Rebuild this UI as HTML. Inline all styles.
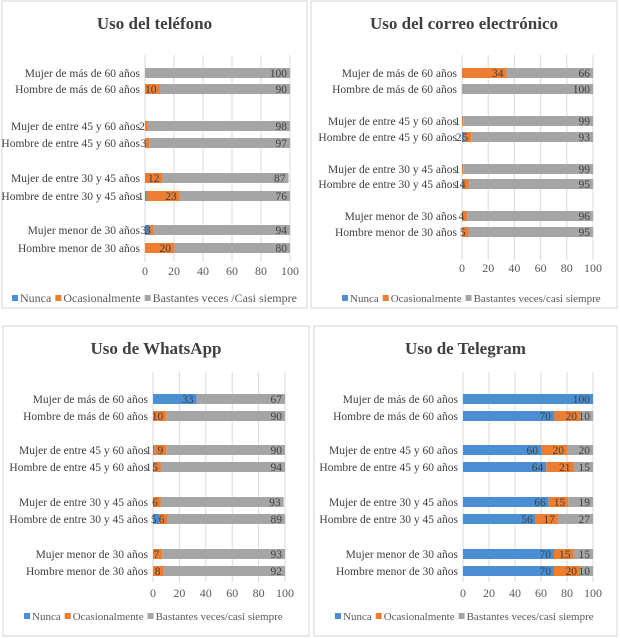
<!DOCTYPE html>
<html><head><meta charset="utf-8"><style>
body{margin:0;background:#fff;width:620px;height:638px;overflow:hidden;font-family:"Liberation Serif",serif}
svg{position:absolute;left:0;top:0}
</style></head><body>
<svg id="s" width="620" height="638"></svg>
<script>
const categories=["Mujer de más de 60 años","Hombre de más de 60 años","Mujer de entre 45 y 60 años","Hombre de entre 45 y 60 años","Mujer de entre 30 y 45 años","Hombre de entre 30 y 45 años","Mujer menor de 30 años","Hombre menor de 30 años"];
const ticks=[0,20,40,60,80,100];
const telNunca=[0,0,0,0,0,1,3,0];
const telOcas=[0,10,2,3,12,23,3,20];
const telBast=[100,90,98,97,87,76,94,80];
const mailNunca=[0,0,0,2,0,1,0,0];
const mailOcas=[34,0,1,5,1,4,4,5];
const mailBast=[66,100,99,93,99,95,96,95];
const waNunca=[33,0,1,1,0,5,0,0];
const waOcas=[0,10,9,5,6,6,7,8];
const waBast=[67,90,90,94,93,89,93,92];
const tgNunca=[100,70,60,64,66,56,70,70];
const tgOcas=[0,20,20,21,15,17,15,20];
const tgBast=[0,10,20,15,19,27,15,10];
const C=["#4a8fd4","#ec7d31","#a5a5a5"];
const NS="http://www.w3.org/2000/svg",S=document.getElementById('s');
function mk(t,a,p){const e=document.createElementNS(NS,t);for(const k in a)e.setAttribute(k,a[k]);(p||S).appendChild(e);return e;}
function chart(o){
 const g=mk('g',{});
 
 
 const bx=mk('rect',{x:o.px,y:o.py,width:o.pw,height:o.ph,fill:'#fff',stroke:'#d6d6d6'},g);
 
 
 const X=v=>o.x0+(o.x1-o.x0)*v/100;
 const t=mk('text',{x:o.px+o.pw/2,y:o.py+28,'text-anchor':'middle','font-size':17,'font-weight':'bold',fill:'#404040'},g);t.textContent=o.title;
 
 
 ticks.forEach(v=>{const l=mk('line',{x1:X(v),x2:X(v),y1:o.gy0,y2:o.gy1,stroke:'#d9d9d9'},g);
  
  
  const tx=mk('text',{x:X(v),y:o.ty,'text-anchor':'middle','font-size':12,fill:'#595959'},g);tx.textContent=v;
  
  });
 categories.forEach((c,i)=>{const y=o.rows[i];
  const lb=mk('text',{x:o.x0-5,y:y+4,'text-anchor':'end','font-size':11.5,fill:'#404040'},g);lb.textContent=c;
  
  
  let acc=0;[o.d[0][i],o.d[1][i],o.d[2][i]].forEach((v,k)=>{
   if(v>0){const r=mk('rect',{x:X(acc),y:y-5,width:X(acc+v)-X(acc),height:10,fill:C[k]},g);
    
    
    const vt=mk('text',{x:X(acc+v)-3,y:y+4,'text-anchor':'end','font-size':11.5,fill:'#404040'},g);vt.textContent=v;
    
    }
   acc+=v;});
 });
 const names=["Nunca","Ocasionalmente",o.leg];let lx=o.lx;
 names.forEach((n,k)=>{mk('rect',{x:lx,y:o.ly-7,width:6,height:6,fill:C[k]},g);
  const tt=mk('text',{x:lx+8,y:o.ly,'font-size':o.lf,fill:'#595959'},g);tt.textContent=n;
  
  
  lx+=tt.getComputedTextLength()+12;});
}
chart({name:'phone-chart',title:'Uso del teléfono',px:2,py:1,pw:305,ph:307,x0:145,x1:290,gy0:55,gy1:262,ty:275,rows:[73,89,126,143,178,196,230,248],d:[telNunca,telOcas,telBast],leg:'Bastantes veces /Casi siempre',lx:12,ly:302,lf:12});
chart({name:'email-chart',title:'Uso del correo electrónico',px:311,py:1,pw:306,ph:307,x0:462,x1:593,gy0:55,gy1:260,ty:272,rows:[73,89,121,137,169,184,216,232],d:[mailNunca,mailOcas,mailBast],leg:'Bastantes veces/casi siempre',lx:342,ly:302,lf:11});
chart({name:'whatsapp-chart',title:'Uso de WhatsApp',px:3,py:326,pw:306,ph:310,x0:153,x1:285,gy0:372,gy1:582,ty:597,rows:[399,416,450,467,502,519,554,571],d:[waNunca,waOcas,waBast],leg:'Bastantes veces/casi siempre',lx:24,ly:620,lf:11});
chart({name:'telegram-chart',title:'Uso de Telegram',px:314,py:326,pw:303,ph:310,x0:463,x1:593,gy0:372,gy1:582,ty:597,rows:[399,416,450,467,502,519,554,571],d:[tgNunca,tgOcas,tgBast],leg:'Bastantes veces/casi siempre',lx:335,ly:620,lf:11});
</script>
</body></html>
